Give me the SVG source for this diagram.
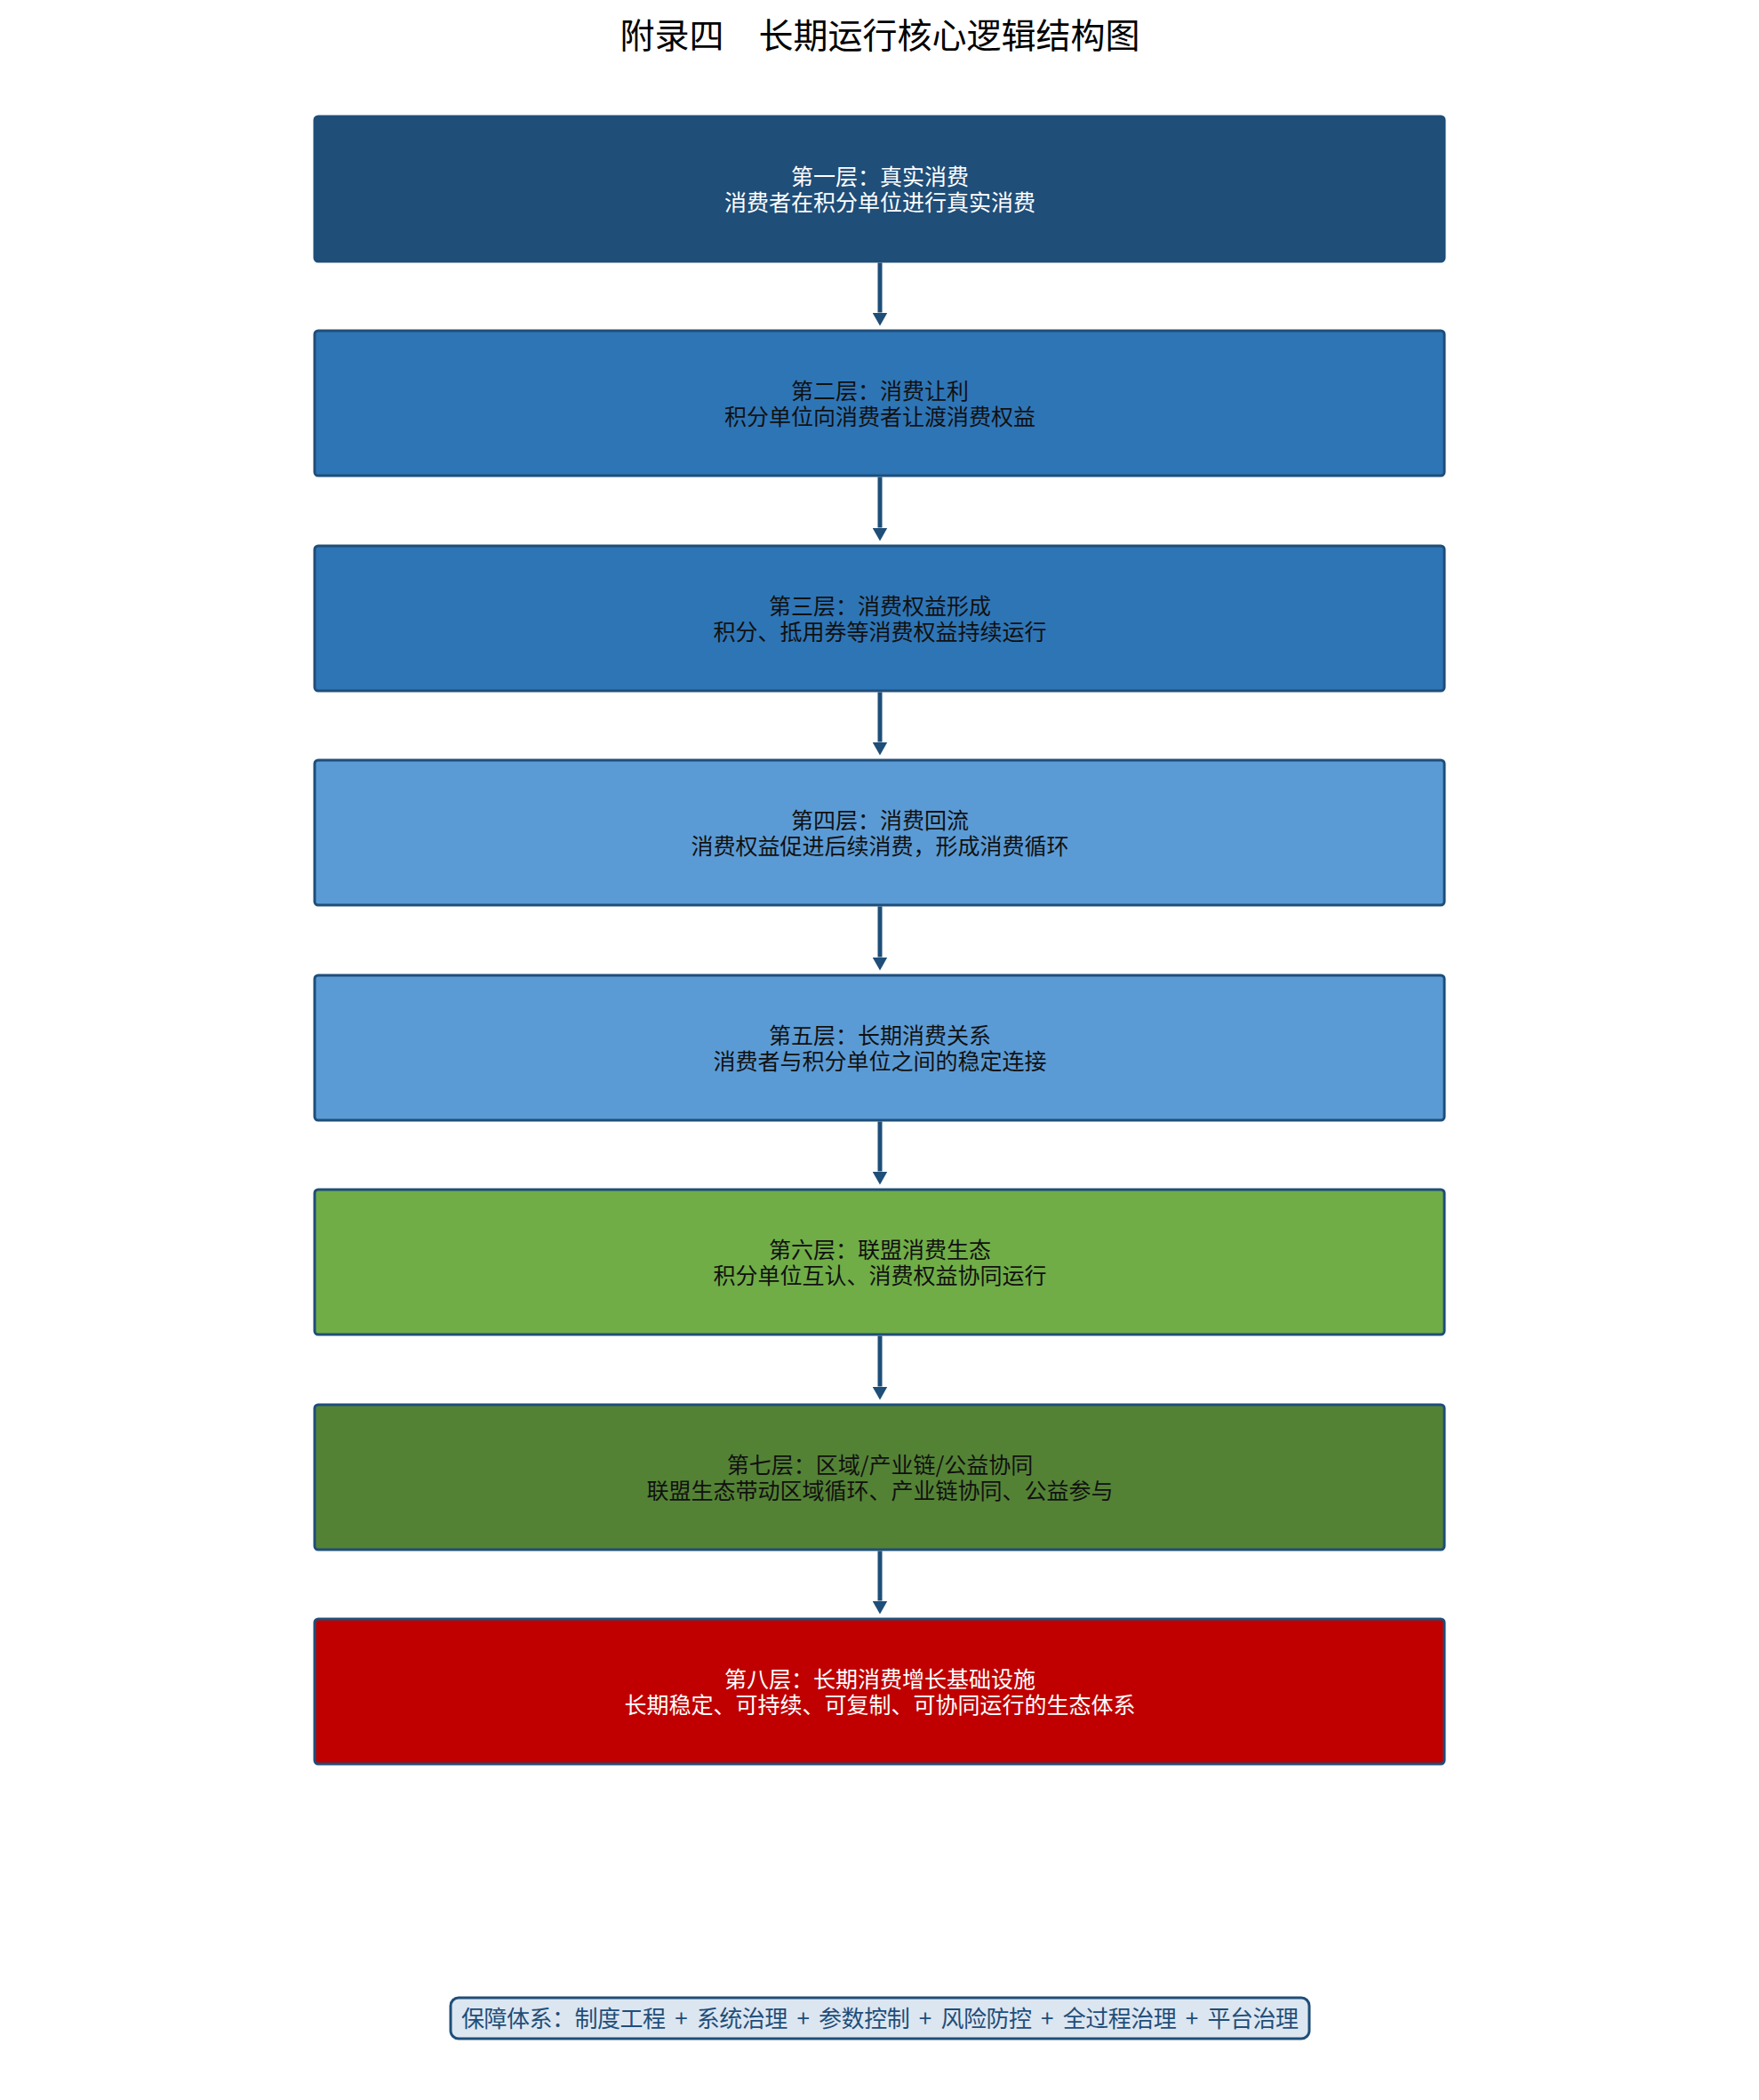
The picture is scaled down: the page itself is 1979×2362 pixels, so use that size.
<svg xmlns="http://www.w3.org/2000/svg" width="1979" height="2362" viewBox="0 0 1979 2362">
<style>
text{font-family:"Noto Sans CJK SC","Noto Sans",sans-serif;text-anchor:middle}
.title{font-size:39px;fill:#000}
.box{stroke:#1f4e79;stroke-width:3}
.t{font-size:25px}
.w{fill:#ffffff}
.k{fill:#111111}
.conn line{stroke:#1f4e79;stroke-width:5}
.foot{font-size:26px;fill:#1f4e79}
</style>
<defs>
<marker id="ah" markerUnits="userSpaceOnUse" viewBox="0 -8.5 15 17" refX="0" refY="0" markerWidth="15" markerHeight="17" orient="auto">
<path d="M0,-8.5 L15,0 L0,8.5 z" fill="#1f4e79"/>
</marker>
</defs>
<rect width="1979" height="2362" fill="#ffffff"/>
<text class="title" x="990" y="54" xml:space="preserve">附录四　长期运行核心逻辑结构图</text>

<g id="n1"><rect class="box" x="354" y="131" width="1271" height="163" rx="4" fill="#1f4e79"/>
<text class="t w"><tspan x="990" y="207.5">第一层：真实消费</tspan><tspan x="990" y="236.5">消费者在积分单位进行真实消费</tspan></text></g>

<g id="n2"><rect class="box" x="354" y="372" width="1271" height="163" rx="4" fill="#2e75b6"/>
<text class="t k"><tspan x="990" y="448.5">第二层：消费让利</tspan><tspan x="990" y="477.5">积分单位向消费者让渡消费权益</tspan></text></g>

<g id="n3"><rect class="box" x="354" y="614" width="1271" height="163" rx="4" fill="#2e75b6"/>
<text class="t k"><tspan x="990" y="690.5">第三层：消费权益形成</tspan><tspan x="990" y="719.5">积分、抵用券等消费权益持续运行</tspan></text></g>

<g id="n4"><rect class="box" x="354" y="855" width="1271" height="163" rx="4" fill="#5b9bd5"/>
<text class="t k"><tspan x="990" y="931.5">第四层：消费回流</tspan><tspan x="990" y="960.5">消费权益促进后续消费，形成消费循环</tspan></text></g>

<g id="n5"><rect class="box" x="354" y="1097" width="1271" height="163" rx="4" fill="#5b9bd5"/>
<text class="t k"><tspan x="990" y="1173.5">第五层：长期消费关系</tspan><tspan x="990" y="1202.5">消费者与积分单位之间的稳定连接</tspan></text></g>

<g id="n6"><rect class="box" x="354" y="1338" width="1271" height="163" rx="4" fill="#70ad47"/>
<text class="t k"><tspan x="990" y="1414.5">第六层：联盟消费生态</tspan><tspan x="990" y="1443.5">积分单位互认、消费权益协同运行</tspan></text></g>

<g id="n7"><rect class="box" x="354" y="1580" width="1271" height="163" rx="4" fill="#548235"/>
<text class="t k"><tspan x="990" y="1656.5">第七层：区域/产业链/公益协同</tspan><tspan x="990" y="1685.5">联盟生态带动区域循环、产业链协同、公益参与</tspan></text></g>

<g id="n8"><rect class="box" x="354" y="1821" width="1271" height="163" rx="4" fill="#c00000"/>
<text class="t w"><tspan x="990" y="1897.5">第八层：长期消费增长基础设施</tspan><tspan x="990" y="1926.5">长期稳定、可持续、可复制、可协同运行的生态体系</tspan></text></g>

<g id="connectors" class="conn">
<line x1="990" y1="295.5" x2="990" y2="351.5" marker-end="url(#ah)"/>
<line x1="990" y1="536.5" x2="990" y2="593.5" marker-end="url(#ah)"/>
<line x1="990" y1="778.5" x2="990" y2="834.5" marker-end="url(#ah)"/>
<line x1="990" y1="1019.5" x2="990" y2="1076.5" marker-end="url(#ah)"/>
<line x1="990" y1="1261.5" x2="990" y2="1317.5" marker-end="url(#ah)"/>
<line x1="990" y1="1502.5" x2="990" y2="1559.5" marker-end="url(#ah)"/>
<line x1="990" y1="1744.5" x2="990" y2="1800.5" marker-end="url(#ah)"/>
</g>

<g id="footer"><rect x="507" y="2247" width="966" height="46" rx="9" fill="#dce6f1" stroke="#1f4e79" stroke-width="3"/>
<text class="foot" x="990" y="2280" textLength="942" lengthAdjust="spacing" xml:space="preserve">保障体系：制度工程  +  系统治理  +  参数控制  +  风险防控  +  全过程治理  +  平台治理</text></g>
</svg>
